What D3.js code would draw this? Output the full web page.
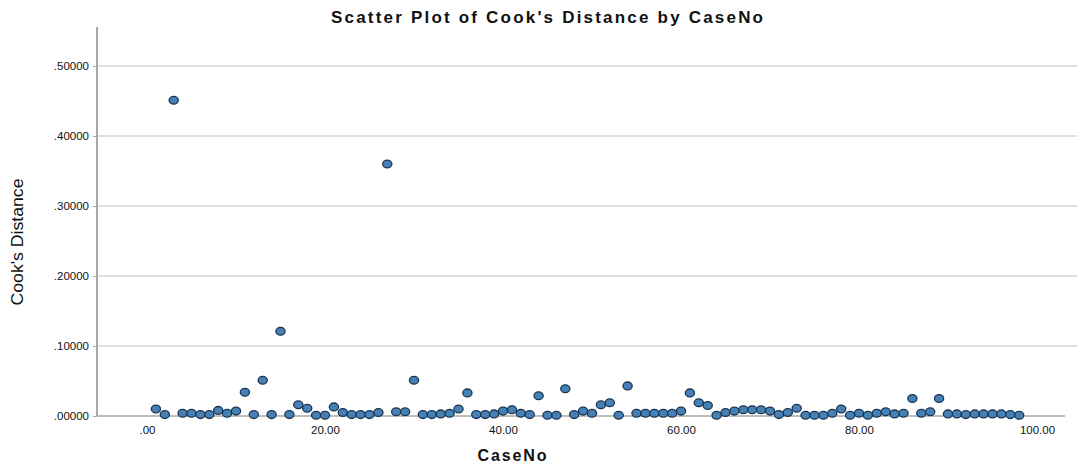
<!DOCTYPE html>
<html>
<head>
<meta charset="utf-8">
<script src="https://cdn.jsdelivr.net/npm/d3@7"></script>
<style>
  html, body { margin: 0; padding: 0; background: #fff; }
  svg { display: block; }
</style>
</head>
<body>
<div id="chart"></div>
<script>
// Case numbers and Cook's distance per case
const caseNo = d3.range(1, 99);
const cooksD = [
  0.010, 0.002, 0.451, 0.004, 0.004, 0.002, 0.002, 0.008, 0.004, 0.007,
  0.034, 0.002, 0.051, 0.002, 0.121, 0.002, 0.016, 0.011, 0.001, 0.001,
  0.013, 0.005, 0.002, 0.002, 0.002, 0.005, 0.360, 0.006, 0.006, 0.051,
  0.002, 0.002, 0.003, 0.004, 0.010, 0.033, 0.002, 0.002, 0.003, 0.007,
  0.009, 0.004, 0.002, 0.029, 0.001, 0.001, 0.039, 0.002, 0.007, 0.004,
  0.016, 0.019, 0.001, 0.043, 0.004, 0.004, 0.004, 0.004, 0.004, 0.007,
  0.033, 0.019, 0.015, 0.001, 0.005, 0.007, 0.009, 0.009, 0.009, 0.007,
  0.002, 0.005, 0.011, 0.001, 0.001, 0.001, 0.004, 0.010, 0.001, 0.004,
  0.001, 0.004, 0.006, 0.003, 0.004, 0.025, 0.004, 0.006, 0.025, 0.003,
  0.003, 0.002, 0.003, 0.003, 0.003, 0.003, 0.002, 0.001
];
const xTicks = [0, 20, 40, 60, 80, 100];
const yTicks = [0, 0.1, 0.2, 0.3, 0.4, 0.5];

const W = 1077, H = 468;
const svg = d3.select("#chart").append("svg")
  .attr("width", W).attr("height", H);

const x = d3.scaleLinear().domain([0, 100]).range([147, 1037]);
const y = d3.scaleLinear().domain([0, 0.5]).range([416, 66]);
const axisLeft = 97, axisTop = 27, plotRight = 1077;

// horizontal gridlines
svg.append("g").selectAll("line")
  .data(yTicks.filter(d => d > 0))
  .join("line")
  .attr("x1", axisLeft).attr("x2", plotRight)
  .attr("y1", d => y(d)).attr("y2", d => y(d))
  .attr("stroke", "#d6d6d6").attr("stroke-width", 1.6);

// x axis
const gx = svg.append("g").attr("transform", `translate(0,${y(0)})`)
  .call(d3.axisBottom(x).tickValues(xTicks).tickSize(0).tickPadding(10)
    .tickFormat(d => (d === 0 ? "" : d3.format(".0f")(d)) + ".00"));
gx.select(".domain").remove();
gx.append("line").attr("x1", axisLeft).attr("x2", 1065)
  .attr("stroke", "#a8a8a8").attr("stroke-width", 1.6);
gx.selectAll("text").attr("font-family", "Arial, 'Liberation Sans', sans-serif")
  .attr("font-size", 11.5).attr("fill", "#111");

// y axis
const gy = svg.append("g").attr("transform", `translate(${axisLeft},0)`)
  .call(d3.axisLeft(y).tickValues(yTicks).tickSize(4).tickPadding(4)
    .tickFormat(d => d3.format(".5f")(d).replace(/^0/, "")));
gy.select(".domain").remove();
gy.append("line").attr("y1", axisTop).attr("y2", y(0))
  .attr("stroke", "#a8a8a8").attr("stroke-width", 2);
gy.selectAll(".tick line").attr("stroke", "#a8a8a8");
gy.selectAll("text").attr("font-family", "Arial, 'Liberation Sans', sans-serif")
  .attr("font-size", 11.5).attr("fill", "#111");

// points
svg.append("g").selectAll("ellipse")
  .data(caseNo.map((c, i) => ({c, v: cooksD[i]})))
  .join("ellipse")
  .attr("cx", d => x(d.c)).attr("cy", d => y(d.v))
  .attr("rx", 4.6).attr("ry", 3.9)
  .attr("fill", "#4680b5").attr("stroke", "#173553").attr("stroke-width", 1.3);

// title
svg.append("text").attr("x", 547).attr("y", 23).attr("text-anchor", "middle")
  .attr("font-family", "Arial, 'Liberation Sans', sans-serif")
  .attr("font-weight", "bold").attr("font-size", 17).attr("fill", "#111")
  .attr("textLength", 432).attr("lengthAdjust", "spacing")
  .text("Scatter Plot of Cook's Distance by CaseNo");

// axis titles
svg.append("text").attr("x", 512).attr("y", 461).attr("text-anchor", "middle")
  .attr("font-family", "Arial, 'Liberation Sans', sans-serif")
  .attr("font-weight", "bold").attr("font-size", 16).attr("fill", "#111")
  .attr("textLength", 69).attr("lengthAdjust", "spacing")
  .text("CaseNo");

svg.append("text")
  .attr("transform", "translate(23,242) rotate(-90)")
  .attr("text-anchor", "middle")
  .attr("font-family", "'Liberation Sans Narrow', 'Arial Narrow', Arial, sans-serif")
  .attr("font-size", 16).attr("fill", "#111")
  .attr("textLength", 127).attr("lengthAdjust", "spacingAndGlyphs")
  .text("Cook's Distance");
</script>
</body>
</html>
